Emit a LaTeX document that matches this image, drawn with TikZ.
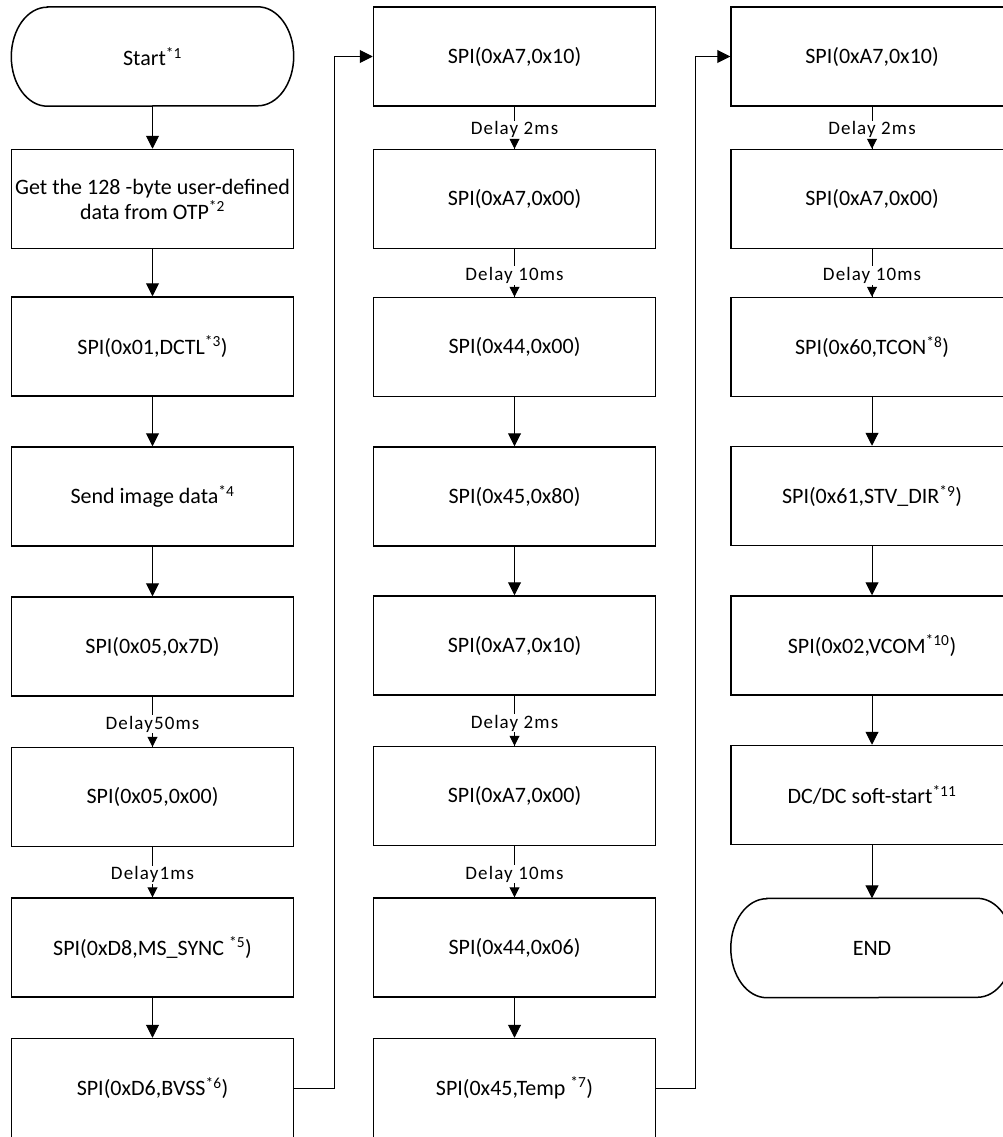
\documentclass[tikz,border=0pt]{standalone}
\usepackage{fontspec}
\setmainfont{Carlito}
\newfontfamily\delayfont[LetterSpace=6]{Carlito}
\usetikzlibrary{arrows.meta,calc}
\begin{document}
\begin{tikzpicture}[x=1pt,y=1pt,
  box/.style={draw, line width=1.5pt, minimum width=282pt, minimum height=99pt,
    inner sep=0pt, align=center, font=\fontsize{22}{25}\selectfont},
  termnode/.style={minimum width=282pt, minimum height=99pt,
    inner sep=0pt, align=center, font=\fontsize{22}{25}\selectfont},
  termline/.style={line width=1.5pt},
  conn/.style={line width=1pt, -{Triangle[width=13pt,length=13pt]}},
  plainline/.style={line width=1pt},
  smalltip/.style={line width=1pt, -{Triangle[width=10pt,length=10pt]}},
  dlabel/.style={fill=white, inner sep=1pt, font=\delayfont\fontsize{19}{21}\selectfont}
]
\useasboundingbox (0,0) rectangle (1003,-1137);
\clip (0,0) rectangle (1003,-1137);

% ---------- column 1 ----------
\node[termnode] (start) at (152.5,-56.5) {Start\textsuperscript{*1}};
\node[box] (c1b) at (152.5,-199) {Get the 128 -byte user-defined\\data from OTP\textsuperscript{*2}};
\node[box] (c1c) at (152.5,-346.5) {SPI(0x01,DCTL\textsuperscript{*3})};
\node[box] (c1d) at (152.5,-496.5) {Send image data\textsuperscript{*4}};
\node[box] (c1e) at (152.5,-646.5) {SPI(0x05,0x7D)};
\node[box] (c1f) at (152.5,-797) {SPI(0x05,0x00)};
\node[box] (c1g) at (152.5,-947.5) {SPI(0xD8,MS\_SYNC \textsuperscript{*5})};
\node[box] (c1h) at (152.5,-1088) {SPI(0xD6,BVSS\textsuperscript{*6})};

% ---------- column 2 ----------
\node[box] (c2a) at (514.5,-56.5) {SPI(0xA7,0x10)};
\node[box] (c2b) at (514.5,-199) {SPI(0xA7,0x00)};
\node[box] (c2c) at (514.5,-347) {SPI(0x44,0x00)};
\node[box] (c2d) at (514.5,-496.5) {SPI(0x45,0x80)};
\node[box] (c2e) at (514.5,-645.5) {SPI(0xA7,0x10)};
\node[box] (c2f) at (514.5,-796) {SPI(0xA7,0x00)};
\node[box] (c2g) at (514.5,-947.5) {SPI(0x44,0x06)};
\node[box] (c2h) at (514.5,-1088) {SPI(0x45,Temp \textsuperscript{*7})};

% ---------- column 3 ----------
\node[box] (c3a) at (872,-56.5) {SPI(0xA7,0x10)};
\node[box] (c3b) at (872,-199) {SPI(0xA7,0x00)};
\node[box] (c3c) at (872,-347) {SPI(0x60,TCON\textsuperscript{*8})};
\node[box] (c3d) at (872,-496) {SPI(0x61,STV\_DIR\textsuperscript{*9})};
\node[box] (c3e) at (872,-645.5) {SPI(0x02,VCOM\textsuperscript{*10})};
\node[box] (c3f) at (872,-795) {DC/DC soft-start\textsuperscript{*11}};
\node[termnode] (fin) at (872,-948) {END};

% terminal outlines
\draw[termline] ([xshift=36pt]start.north west) -- ([xshift=-36pt]start.north east)
  arc[start angle=90, end angle=-90, x radius=36pt, y radius=49.5pt]
  -- ([xshift=36pt]start.south west)
  arc[start angle=270, end angle=90, x radius=36pt, y radius=49.5pt] -- cycle;
\draw[termline] ([xshift=36pt]fin.north west) -- ([xshift=-36pt]fin.north east)
  arc[start angle=90, end angle=-90, x radius=36pt, y radius=49.5pt]
  -- ([xshift=36pt]fin.south west)
  arc[start angle=270, end angle=90, x radius=36pt, y radius=49.5pt] -- cycle;

% ---------- plain connectors ----------
\draw[conn] (start.south) -- (c1b.north);
\draw[conn] (c1b.south) -- (c1c.north);
\draw[conn] (c1c.south) -- (c1d.north);
\draw[conn] (c1d.south) -- (c1e.north);
\draw[conn] (c1g.south) -- (c1h.north);
\draw[conn] (c2c.south) -- (c2d.north);
\draw[conn] (c2d.south) -- (c2e.north);
\draw[conn] (c2g.south) -- (c2h.north);
\draw[conn] (c3c.south) -- (c3d.north);
\draw[conn] (c3d.south) -- (c3e.north);
\draw[conn] (c3e.south) -- (c3f.north);
\draw[conn] (c3f.south) -- (fin.north);

% ---------- delay connectors ----------
\foreach \a/\b/\t in {c1e/c1f/Delay50ms, c1f/c1g/Delay1ms,
    c2a/c2b/Delay 2ms, c2b/c2c/Delay 10ms, c2e/c2f/Delay 2ms, c2f/c2g/Delay 10ms,
    c3a/c3b/Delay 2ms, c3b/c3c/Delay 10ms}{
  \draw[plainline] (\a.south) -- (\b.north);
  \node[dlabel] at ($(\a.south)!0.55!(\b.north)$) {\t};
  \draw[smalltip] ([yshift=10pt]\b.north) -- (\b.north);
}

% ---------- loop connectors ----------
\draw[conn] (c1h.east) -- ++(40pt,0) |- (c2a.west);
\draw[conn] (c2h.east) -- ++(39pt,0) |- (c3a.west);
\end{tikzpicture}
\end{document}
